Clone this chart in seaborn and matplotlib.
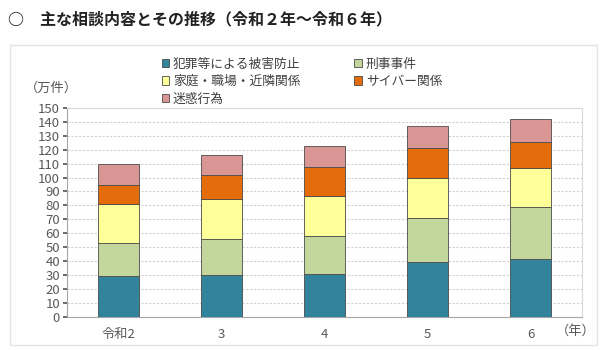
import matplotlib
matplotlib.use("Agg")
import matplotlib.pyplot as plt
import seaborn as sns
import pandas as pd
import numpy as np
from matplotlib.patches import Rectangle

sns.set_theme(style="white")
plt.rcParams['font.family'] = ['Noto Sans CJK JP', 'DejaVu Sans']

years = ["令和2", "3", "4", "5", "6"]
series_names = ["犯罪等による被害防止", "刑事事件", "家庭・職場・近隣関係", "サイバー関係", "迷惑行為"]
crime_prevention = [29, 30, 31, 39, 41.5]
criminal_cases = [24, 25.5, 27, 32, 37.5]
family_work = [28, 29, 29, 29, 28]
cyber = [13.5, 17, 20.5, 21, 18.5]
nuisance = [15, 14.5, 15.5, 16, 16.5]
colors = ["#31849B", "#C3D69B", "#FFFF99", "#E46C0A", "#D99694"]
yticks = list(range(0, 151, 10))

values = [crime_prevention, criminal_cases, family_work, cyber, nuisance]
df = pd.DataFrame({"year": years})
for n, v in zip(series_names, values):
    df[n] = v

fig = plt.figure(figsize=(6, 3.5), dpi=100)
fig.patch.set_facecolor("white")
fig.patches.append(Rectangle((10/600, 5/350), 587/600, 300/350, transform=fig.transFigure,
                             fill=False, edgecolor="#E3E3E3", linewidth=1.0))
ax = fig.add_axes([67/600, 1-316.7/350, 515/600, 208.7/350])

bottom = np.zeros(len(years))
for n, c in zip(series_names, colors):
    sns.barplot(data=df, x="year", y=n, color=c, bottom=bottom, width=0.4, saturation=1,
                edgecolor="#4a4a4a", linewidth=0.6, ax=ax, label=n, zorder=3)
    bottom = bottom + df[n].values
handles, labels = ax.get_legend_handles_labels()
if ax.get_legend() is not None:
    ax.get_legend().remove()

ax.set_ylim(0, 150)
ax.set_yticks(yticks)
ax.set_yticklabels([str(t) for t in yticks], fontsize=9.5, color="#595959")
ax.tick_params(axis="x", labelsize=9.5, colors="#595959", length=0, pad=8)
ax.tick_params(axis="y", length=3, colors="#595959", pad=2, left=True)
ax.set_xlabel("")
ax.set_ylabel("")
ax.yaxis.grid(True, linestyle=(0, (2, 1.5)), color="#D0D0D0", linewidth=0.8, zorder=0)
for s in ["top", "right"]:
    ax.spines[s].set_color("#D9D9D9")
    ax.spines[s].set_linewidth(0.8)
for s in ["left", "bottom"]:
    ax.spines[s].set_color("#A6A6A6")
    ax.spines[s].set_linewidth(0.8)

order = [0, 2, 4, 1, 3]
leg = fig.legend([handles[i] for i in order], [labels[i] for i in order],
                 loc="upper left", bbox_to_anchor=(150/600, 1-46/350),
                 ncol=2, frameon=False, fontsize=9.2, handlelength=0.6, handleheight=0.6,
                 handletextpad=0.3, columnspacing=4.2, labelspacing=0.35)
for t in leg.get_texts():
    t.set_color("#404040")

fig.text(25/600, 1-88/350, "（万件）", fontsize=9.5, color="#595959", va="center", ha="left")
fig.text(556/600, 1-331/350, "（年）", fontsize=9.5, color="#595959", va="center", ha="left")
fig.text(8/600, 1-19/350, "○　主な相談内容とその推移（令和２年～令和６年）", fontsize=11.5,
         fontweight="bold", color="#222222", va="center", ha="left")

fig.savefig("out.png", dpi=100, facecolor="white")
